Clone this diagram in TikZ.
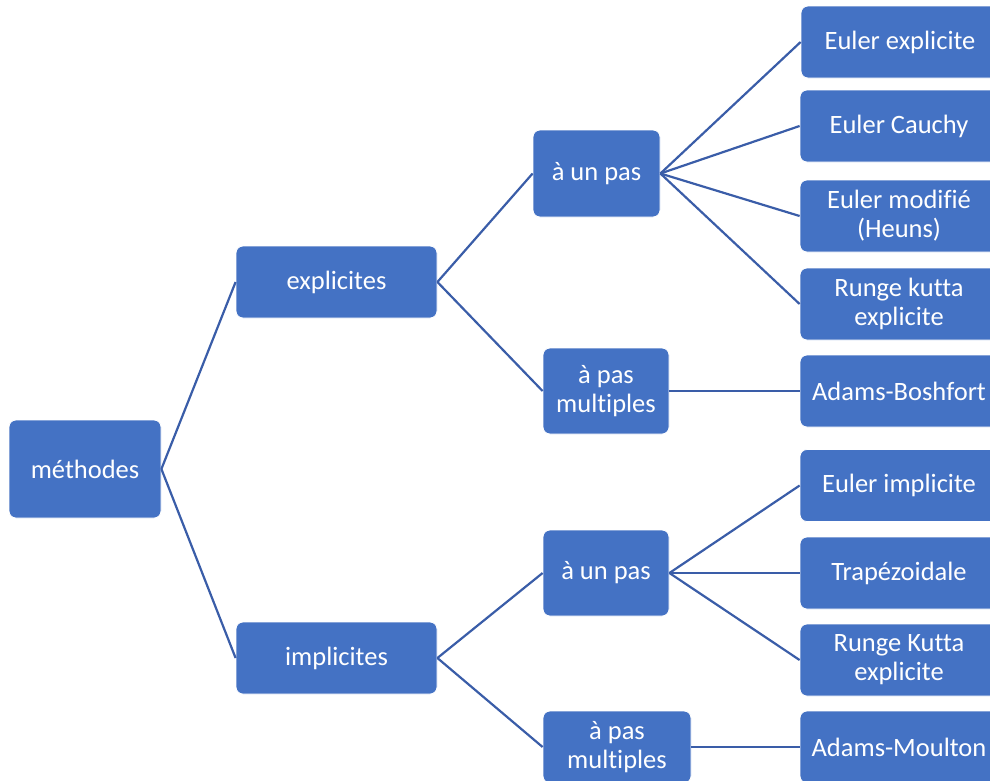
\documentclass[tikz,border=0pt]{standalone}
\usepackage{fontspec}
\setmainfont{Carlito}[Ligatures={NoCommon,NoContextual}]
\definecolor{boxblue}{HTML}{4472C4}
\definecolor{linkblue}{HTML}{3A5DA8}
\begin{document}
\begin{tikzpicture}[x=1pt,y=-1pt,
  box/.style={rectangle, rounded corners=7pt, fill=boxblue, draw=white, line width=0.8pt,
    text=white, align=center, inner sep=0pt,
    font=\fontsize{26.5}{29}\selectfont},
  link/.style={draw=linkblue, line width=2.2pt}]
\useasboundingbox (0,0) rectangle (990,780);
\clip (0,0) rectangle (990,780);

% root and first level
\node[box, minimum width=152pt, minimum height=98pt] (meth) at (85,469) {méthodes};
\node[box, minimum width=201pt, minimum height=72pt] (expl) at (336.5,282) {explicites};
\node[box, minimum width=201pt, minimum height=72pt] (impl) at (336.5,658) {implicites};

% second level
\node[box, minimum width=127pt, minimum height=87pt] (unA) at (596.5,173.5) {à un pas};
\node[box, minimum width=126pt, minimum height=86pt] (mulA) at (606,391) {à pas\\multiples};
\node[box, minimum width=126pt, minimum height=86pt] (unB) at (606,573) {à un pas};
\node[box, minimum width=148pt, minimum height=72pt] (mulB) at (617,747) {à pas\\multiples};

% leaves
\node[box, minimum width=198pt, minimum height=72pt] (l1) at (900,42) {Euler explicite};
\node[box, minimum width=198pt, minimum height=72pt] (l2) at (899,126) {Euler Cauchy};
\node[box, minimum width=198pt, minimum height=72pt] (l3) at (899,216) {Euler modifié\\(Heuns)};
\node[box, minimum width=198pt, minimum height=72pt] (l4) at (899,304) {Runge kutta\\explicite};
\node[box, minimum width=198pt, minimum height=72pt] (l5) at (899,391) {Adams-Boshfort};
\node[box, minimum width=198pt, minimum height=72pt] (l6) at (899,485.5) {Euler implicite};
\node[box, minimum width=198pt, minimum height=72pt] (l7) at (899,573) {Trapézoidale};
\node[box, minimum width=198pt, minimum height=72pt] (l8) at (899,660) {Runge Kutta\\explicite};
\node[box, minimum width=198pt, minimum height=72pt] (l9) at (899,747) {Adams-Moulton};

% connectors
\draw[link] (meth.east) -- (expl.west);
\draw[link] (meth.east) -- (impl.west);
\draw[link] (expl.east) -- (unA.west);
\draw[link] (expl.east) -- (mulA.west);
\draw[link] (impl.east) -- (unB.west);
\draw[link] (impl.east) -- (mulB.west);
\foreach \leaf in {l1,l2,l3,l4} \draw[link] (unA.east) -- (\leaf.west);
\draw[link] (mulA.east) -- (l5.west);
\foreach \leaf in {l6,l7,l8} \draw[link] (unB.east) -- (\leaf.west);
\draw[link] (mulB.east) -- (l9.west);
\end{tikzpicture}
\end{document}
